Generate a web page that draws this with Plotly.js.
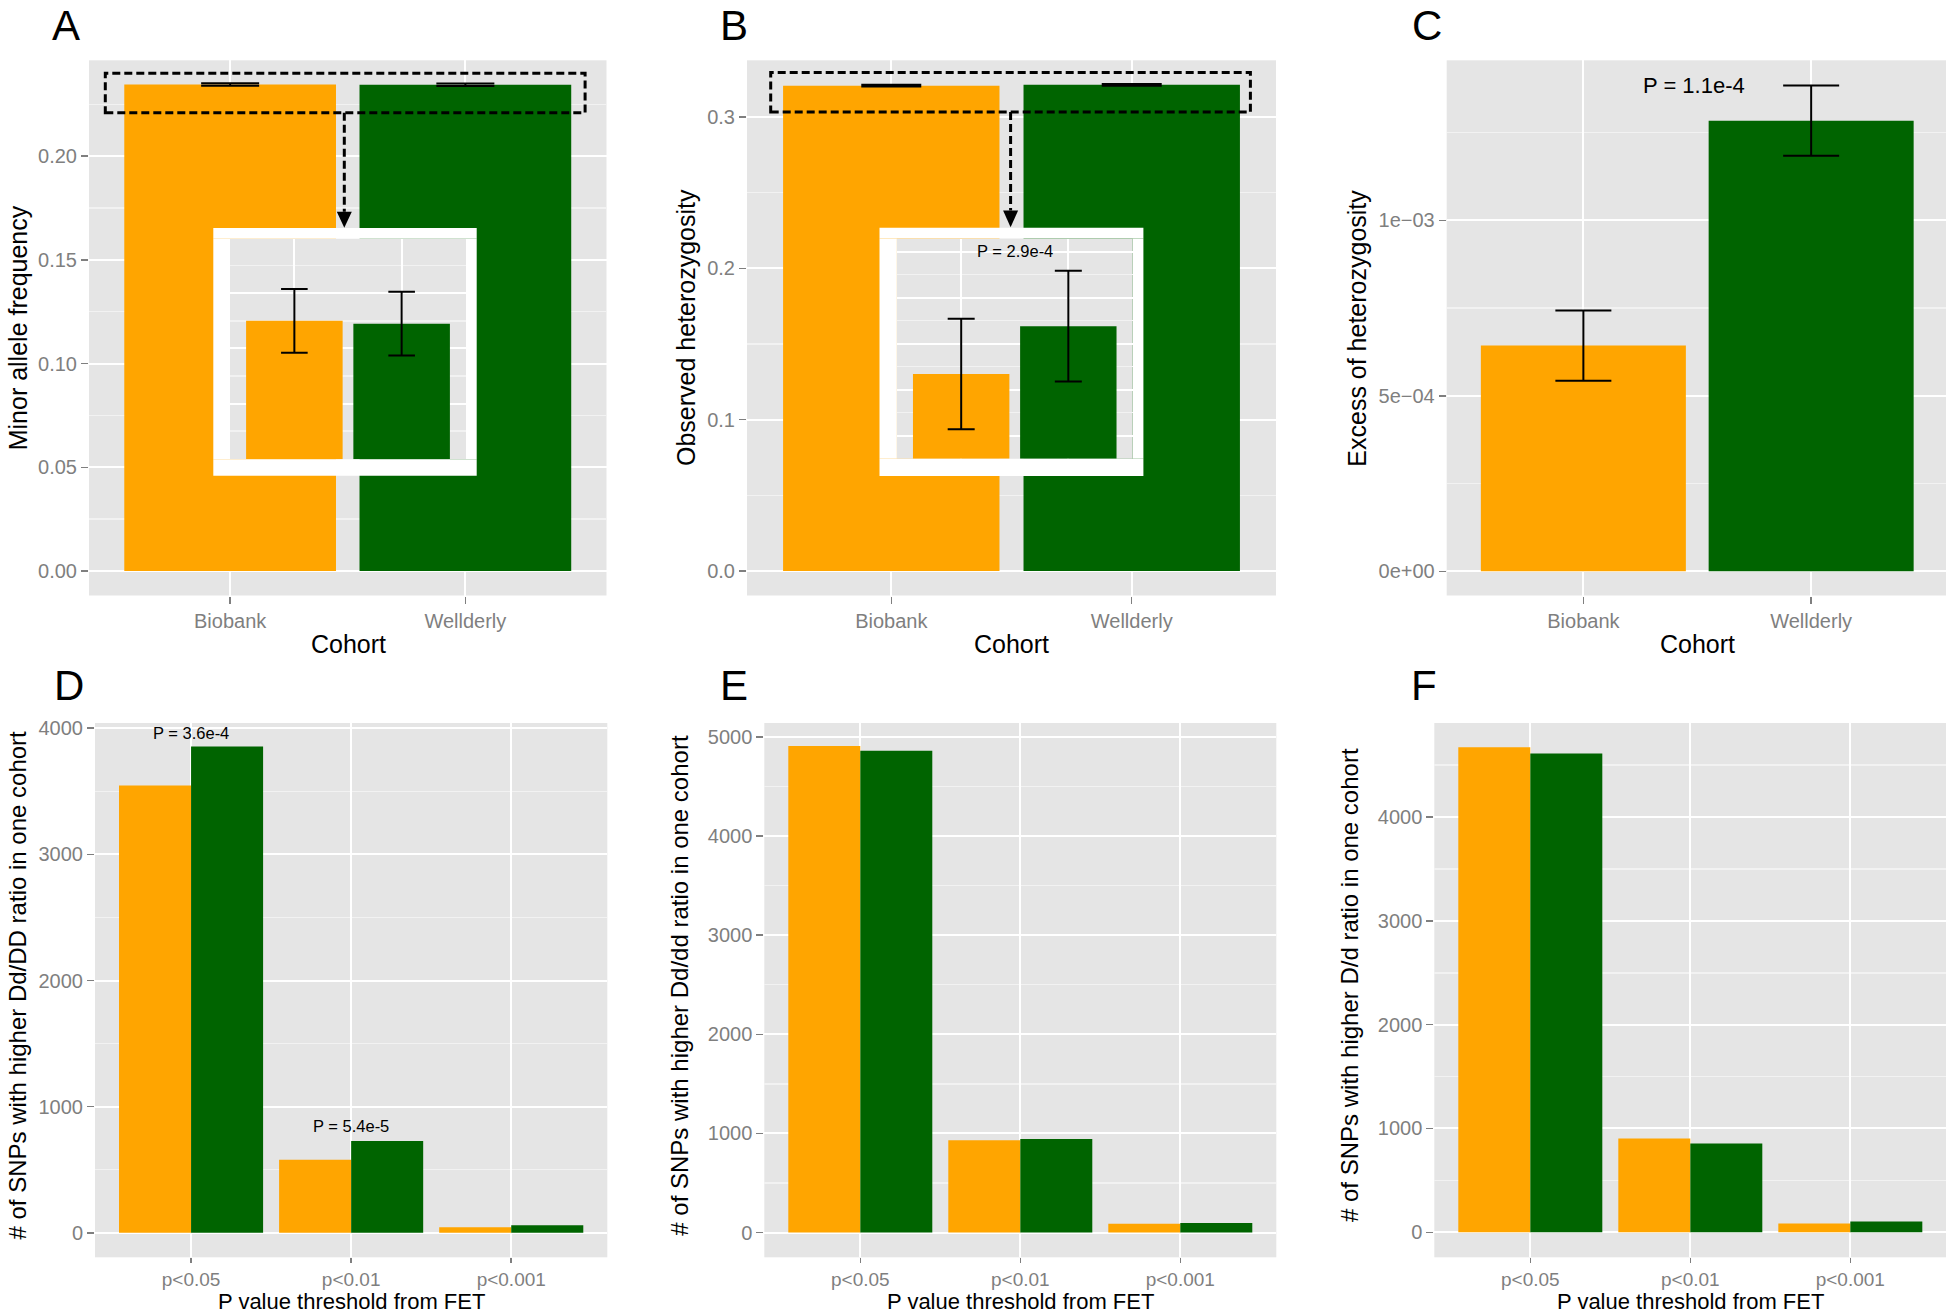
<!DOCTYPE html>
<html><head><meta charset="utf-8">
<script src="https://cdn.plot.ly/plotly-3.0.1.min.js"></script>
<style>html,body{margin:0;padding:0;background:#fff;} #chart{width:1946px;height:1315px;}</style>
</head><body><div id="chart"></div>
<script>
// ---------------- data ----------------
const cohorts = ['Biobank', 'Wellderly'];
const cohortColors = ['#FFA500', '#006400'];
const mafMean = [0.2345, 0.23445];
const mafErr = [0.00058, 0.00058];
const hetObs = [0.32067, 0.32119];
const hetObsErr = [0.0006, 0.0006];
const hetExcess = [0.000643, 0.001284];
const hetExcessErr = [0.0001, 0.0001];
const thresholds = ['p<0.05', 'p<0.01', 'p<0.001'];
const snpDdDD_Biobank = [3546, 580, 45];
const snpDdDD_Wellderly = [3855, 728, 60];
const snpDddd_Biobank = [4907, 932, 89];
const snpDddd_Wellderly = [4861, 944, 97];
const snpDd_Biobank = [4673, 904, 84];
const snpDd_Wellderly = [4612, 856, 104];
const pLabelInsetB = 'P = 2.9e-4';
const pLabelC = 'P = 1.1e-4';
const pLabelsD = ['P = 3.6e-4', 'P = 5.4e-5'];
const pLabelsDy = [3961, 847];
const panelLetters = ['A', 'B', 'C', 'D', 'E', 'F'];

// ---------------- helpers ----------------
const W = 1946, H = 1315;
const FONT = 'Liberation Sans, Arial, Helvetica, sans-serif';
const px = x => x / W;
const py = y => 1 - y / H;
const GRID = '#FFFFFF', MINOR = '#F2F2F2', TICKC = '#7F7F7F';

function xCat(x0, x1, anchor, range, tlen, fsize) {
  return {
    domain: [px(x0), Math.min(1, px(x1))], anchor: anchor, type: 'category',
    range: range || [-0.6, 1.6], showgrid: true, gridcolor: GRID, gridwidth: 2,
    zeroline: false, showline: false, ticks: 'outside', ticklen: tlen || 7, tickwidth: 1.5,
    tickcolor: TICKC, tickfont: {family: FONT, size: fsize || 20, color: TICKC}, fixedrange: true
  };
}
function yLin(y0, y1, anchor, range, dtick, minorDtick, fmt) {
  return {
    domain: [py(y1), py(y0)], anchor: anchor, range: range,
    tickmode: 'linear', tick0: 0, dtick: dtick, tickformat: fmt,
    showgrid: true, gridcolor: GRID, gridwidth: 2, zeroline: false, showline: false,
    ticks: 'outside', ticklen: 7, tickwidth: 1.5, tickcolor: TICKC,
    tickfont: {family: FONT, size: 20, color: TICKC}, fixedrange: true,
    minor: {tickmode: 'linear', tick0: 0, dtick: minorDtick, showgrid: true, gridcolor: MINOR, gridwidth: 1.5, ticks: ''}
  };
}
function insetAxes(x0, x1, y0, y1, anchorX, anchorY, yrange, dtick, minorDtick) {
  const xa = {domain: [px(x0), px(x1)], anchor: anchorY, type: 'category', range: [-0.6, 1.6],
    showgrid: true, gridcolor: GRID, gridwidth: 2, zeroline: false, showline: false,
    ticks: '', showticklabels: false, fixedrange: true};
  const ya = {domain: [py(y1), py(y0)], anchor: anchorX, range: yrange, tickmode: 'linear', tick0: 0, dtick: dtick,
    showgrid: true, gridcolor: GRID, gridwidth: 2, zeroline: false, showline: false,
    ticks: '', showticklabels: false, fixedrange: true,
    minor: {tickmode: 'linear', tick0: 0, dtick: minorDtick, showgrid: true, gridcolor: MINOR, gridwidth: 1.5, ticks: ''}};
  return [xa, ya];
}
function errBar(arr, w) { return {type: 'data', array: arr, visible: true, color: '#000', thickness: 2, width: w}; }
function single(y, err, xa, ya, ew) {
  return {type: 'bar', x: cohorts, y: y, xaxis: xa, yaxis: ya, width: 0.9,
    marker: {color: cohortColors, line: {width: 0}}, error_y: errBar(err, ew), hoverinfo: 'skip'};
}
function grouped(yb, yw, xa, ya) {
  return [
    {type: 'bar', name: cohorts[0], x: thresholds, y: yb, xaxis: xa, yaxis: ya, marker: {color: cohortColors[0], line: {width: 0}}, hoverinfo: 'skip'},
    {type: 'bar', name: cohorts[1], x: thresholds, y: yw, xaxis: xa, yaxis: ya, marker: {color: cohortColors[1], line: {width: 0}}, hoverinfo: 'skip'}
  ];
}

// ---------------- traces ----------------
const traces = [
  single(mafMean, mafErr, 'x', 'y', 29),
  single(hetObs, hetObsErr, 'x2', 'y2', 30),
  single(hetExcess, hetExcessErr, 'x3', 'y3', 28),
  ...grouped(snpDdDD_Biobank, snpDdDD_Wellderly, 'x4', 'y4'),
  ...grouped(snpDddd_Biobank, snpDddd_Wellderly, 'x5', 'y5'),
  ...grouped(snpDd_Biobank, snpDd_Wellderly, 'x6', 'y6'),
  single(mafMean, mafErr, 'x7', 'y7', 13.3),
  single(hetObs, hetObsErr, 'x8', 'y8', 13.5)
];

// ---------------- layout ----------------
const TOP = 60.3, BOT = 595.5, LTOP = 723, LBOT = 1257.3;
const [ix7, iy7] = insetAxes(230, 466, 238.7, 459.3, 'x7', 'y7', [0.23199, 0.23599], 0.001, 0.0005);
const [ix8, iy8] = insetAxes(896.9, 1132.6, 238.6, 458.8, 'x8', 'y8', [0.31975, 0.32214], 0.0005, 0.00025);

const yC = yLin(TOP, BOT, 'x3', [-0.000069, 0.001456], 0.0005, 0.00025, '');
yC.tickmode = 'array';
yC.tickvals = [0, 0.0005, 0.001];
yC.ticktext = ['0e+00', '5e\u221204', '1e\u221203'];

const layout = {
  width: W, height: H, margin: {l: 0, r: 0, t: 0, b: 0},
  paper_bgcolor: '#FFFFFF', plot_bgcolor: '#E5E5E5', showlegend: false,
  barmode: 'group', bargap: 0.1, bargroupgap: 0,
  font: {family: FONT, color: '#000'},
  xaxis: xCat(89, 606.5, 'y'),
  yaxis: yLin(TOP, BOT, 'x', [-0.0118, 0.2462], 0.05, 0.025, '.2f'),
  xaxis2: xCat(747, 1276, 'y2'),
  yaxis2: yLin(TOP, BOT, 'x2', [-0.0161, 0.3374], 0.1, 0.05, '.1f'),
  xaxis3: xCat(1446.7, 1946, 'y3', [-0.6, 1.592]),
  yaxis3: yC,
  xaxis4: xCat(95, 607.3, 'y4', [-0.6, 2.6], 5, 19),
  yaxis4: yLin(LTOP, LBOT, 'x4', [-194, 4041], 1000, 500, 'd'),
  xaxis5: xCat(764.3, 1276.3, 'y5', [-0.6, 2.6], 5, 19),
  yaxis5: yLin(LTOP, LBOT, 'x5', [-250, 5140], 1000, 500, 'd'),
  xaxis6: xCat(1434.3, 1946, 'y6', [-0.6, 2.598], 5, 19),
  yaxis6: yLin(LTOP, LBOT, 'x6', [-241, 4906], 1000, 500, 'd'),
  xaxis7: ix7, yaxis7: iy7, xaxis8: ix8, yaxis8: iy8
};

// ---------------- shapes (decorations) ----------------
const shapes = [];
function prect(x0, y0, x1, y1, fill) {
  shapes.push({type: 'rect', xref: 'paper', yref: 'paper', layer: 'above',
    x0: px(x0), x1: px(x1), y0: py(y1), y1: py(y0), fillcolor: fill, line: {width: 0}});
}
function frame(o, i) {
  prect(o[0], o[1], o[2], i[1], '#FFFFFF');
  prect(o[0], i[3], o[2], o[3], '#FFFFFF');
  prect(o[0], i[1], i[0], i[3], '#FFFFFF');
  prect(i[2], i[1], o[2], i[3], '#FFFFFF');
}
function dashedBox(x0, y0, x1, y1) {
  shapes.push({type: 'rect', xref: 'paper', yref: 'paper', layer: 'above',
    x0: px(x0), x1: px(x1), y0: py(y1), y1: py(y0), fillcolor: 'rgba(0,0,0,0)',
    line: {color: '#000', width: 3, dash: '8px,4px'}});
}
function dashedArrow(x, y0, yHead, yTip) {
  shapes.push({type: 'line', xref: 'paper', yref: 'paper', layer: 'above',
    x0: px(x), x1: px(x), y0: py(y0), y1: py(yHead), line: {color: '#000', width: 3, dash: '8px,4px'}});
  shapes.push({type: 'path', xref: 'paper', yref: 'paper', layer: 'above',
    path: `M ${px(x - 7.5)},${py(yHead)} L ${px(x + 7.5)},${py(yHead)} L ${px(x)},${py(yTip)} Z`,
    fillcolor: '#000', line: {width: 0}});
}
frame([213.3, 228, 476.7, 475.7], [230, 238.7, 466, 459.3]);
frame([879.5, 227.7, 1143.4, 476], [896.9, 238.6, 1132.6, 458.8]);
dashedBox(105.3, 73.3, 585.1, 112.7);
dashedArrow(344.3, 112.7, 211.7, 227.7);
dashedBox(770.7, 72.4, 1250.4, 112);
dashedArrow(1010.6, 112, 210.4, 227.3);
layout.shapes = shapes;

// ---------------- annotations ----------------
const ann = [];
function ptext(text, x, y, size, angle, yanchor) {
  ann.push({text: text, xref: 'paper', yref: 'paper', x: px(x), y: py(y), xanchor: 'center', yanchor: yanchor || 'middle',
    showarrow: false, textangle: angle || 0, font: {family: FONT, size: size, color: '#000'}});
}
const letterPos = [[66, 0], [734, 0], [1426.7, 0], [68.5, 685], [734, 685], [1424, 685]];
panelLetters.forEach((l, i) => ptext(l, letterPos[i][0], letterPos[i][1], 42, 0, i < 3 ? 'top' : 'middle'));
ptext('Minor allele frequency', 18.3, 328, 25, -90);
ptext('Observed heterozygosity', 686, 328, 25, -90);
ptext('Excess of heterozygosity', 1356.7, 328, 25, -90);
ptext('# of SNPs with higher Dd/DD ratio in one cohort', 16.5, 985, 24, -90);
ptext('# of SNPs with higher Dd/dd ratio in one cohort', 678.7, 985, 24, -90);
ptext('# of SNPs with higher D/d ratio in one cohort', 1349, 985, 24, -90);
ptext('Cohort', 348, 644, 25);
ptext('Cohort', 1011.5, 644, 25);
ptext('Cohort', 1697.3, 644, 25);
ptext('P value threshold from FET', 351, 1301, 22);
ptext('P value threshold from FET', 1020.3, 1301, 22);
ptext('P value threshold from FET', 1690.3, 1301, 22);
function dtext(text, xref, yref, x, y, size) {
  ann.push({text: text, xref: xref, yref: yref, x: x, y: y, xanchor: 'center', yanchor: 'middle',
    showarrow: false, font: {family: FONT, size: size, color: '#000'}});
}
dtext(pLabelInsetB, 'x8', 'y8', 0.5, 0.3220, 16.5);
dtext(pLabelC, 'x3', 'y3', 0.487, 0.001383, 22);
dtext(pLabelsD[0], 'x4', 'y4', 0, pLabelsDy[0], 16.5);
dtext(pLabelsD[1], 'x4', 'y4', 1, pLabelsDy[1], 16.5);
layout.annotations = ann;

Plotly.newPlot('chart', traces, layout, {displayModeBar: false, staticPlot: true});
</script></body></html>
